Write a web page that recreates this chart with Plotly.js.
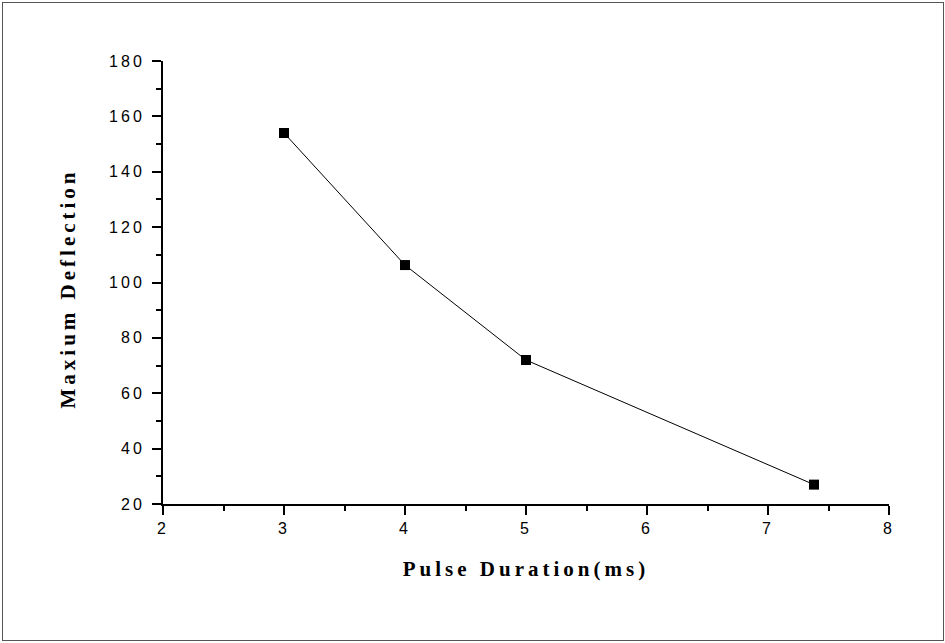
<!DOCTYPE html>
<html>
<head>
<meta charset="utf-8">
<script src="https://cdn.plot.ly/plotly-3.0.1.min.js"></script>
<style>
  html, body { margin: 0; padding: 0; background: #fff; }
  #wrap { position: relative; width: 945px; height: 643px; }
  #chart { width: 945px; height: 643px; }
  #frame { position: absolute; left: 2px; top: 2px; width: 940px; height: 637px;
           border: 1px solid #555; pointer-events: none; }
  .xtick text, .ytick text { letter-spacing: 3px; }
  .g-xtitle text, .g-ytitle text { letter-spacing: 4px; }
  .g-ytitle { transform: translateY(6px); }
</style>
</head>
<body>
<div id="wrap">
  <div id="chart"></div>
  <div id="frame"></div>
</div>
<script>
const pulseDuration = [3, 4, 5, 7.38];
const maxDeflection = [154, 106.3, 72, 27];
const xTickVals = [2, 3, 4, 5, 6, 7, 8];
const yTickVals = [20, 40, 60, 80, 100, 120, 140, 160, 180];

const trace = {
  x: pulseDuration,
  y: maxDeflection,
  type: 'scatter',
  mode: 'lines+markers',
  line: { color: '#000', width: 1 },
  marker: { symbol: 'square', size: 10, color: '#000' },
  hoverinfo: 'skip'
};

const tickFont = { family: 'Liberation Sans, Arial, sans-serif', size: 16, color: '#000' };
const titleFont = { family: 'Liberation Serif, Times New Roman, serif', size: 21, color: '#000', weight: 'bold' };

const layout = {
  width: 945, height: 643,
  margin: { l: 163, r: 56, t: 61, b: 139 },
  paper_bgcolor: '#fff', plot_bgcolor: '#fff',
  showlegend: false,
  xaxis: {
    range: [2, 8], tickvals: xTickVals, ticktext: xTickVals.map(String),
    showgrid: false, zeroline: false, showline: true, linecolor: '#000', linewidth: 2,
    ticks: 'outside', ticklen: 9, tickwidth: 2, tickcolor: '#000',
    minor: { dtick: 0.5, tick0: 2, ticks: 'outside', ticklen: 5, tickwidth: 2, tickcolor: '#000', showgrid: false },
    tickfont: tickFont,
    title: { text: 'Pulse Duration(ms)', font: titleFont, standoff: 25 }
  },
  yaxis: {
    range: [20, 180], tickvals: yTickVals, ticktext: yTickVals.map(String),
    showgrid: false, zeroline: false, showline: true, linecolor: '#000', linewidth: 2,
    ticks: 'outside', ticklen: 9, tickwidth: 2, tickcolor: '#000',
    minor: { dtick: 10, tick0: 20, ticks: 'outside', ticklen: 5, tickwidth: 2, tickcolor: '#000', showgrid: false },
    tickfont: tickFont,
    ticklabelstandoff: 4,
    title: { text: 'Maxium Deflection', font: titleFont, standoff: 28 }
  }
};

Plotly.newPlot('chart', [trace], layout, { staticPlot: true, displayModeBar: false });
</script>
</body>
</html>
